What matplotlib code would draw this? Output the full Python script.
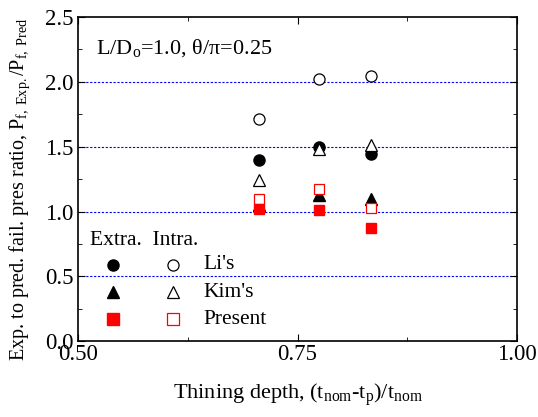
import numpy as np
import matplotlib.pyplot as plt
from matplotlib.ticker import MultipleLocator

plt.rcParams['font.family'] = 'Liberation Serif'
plt.rcParams['mathtext.fontset'] = 'custom'
plt.rcParams['mathtext.rm'] = 'Liberation Serif'
plt.rcParams['mathtext.it'] = 'Liberation Serif:italic'

# thinning depth positions
depth = [0.706, 0.775, 0.834]

# extrados (filled) and intrados (open) ratios
li_extra = [1.40, 1.50, 1.443]
li_intra = [1.71, 2.02, 2.045]
kim_extra = [1.05, 1.13, 1.10]
kim_intra = [1.245, 1.485, 1.51]
present_extra = [1.016, 1.008, 0.874]
present_intra = [1.10, 1.175, 1.03]

fig = plt.figure(figsize=(5.38, 4.17), dpi=100)
ax = fig.add_axes([0.145, 0.182, 0.816, 0.777])

for yv in [0.5, 1.0, 1.5, 2.0]:
    ax.axhline(yv, color='blue', ls=(0, (2, 1.5)), lw=0.8, zorder=1)

ms = 8
ax.plot(depth, li_extra, 'o', color='black', ms=ms, zorder=3)
ax.plot(depth, li_intra, 'o', mfc='white', mec='black', mew=0.9, ms=ms, zorder=3)
ax.plot(depth, kim_extra, '^', color='black', ms=ms, zorder=3)
ax.plot(depth, kim_intra, '^', mfc='white', mec='black', mew=0.9, ms=ms, zorder=3)
ax.plot(depth, present_extra, 's', color='red', ms=ms - 0.5, zorder=4)
ax.plot(depth, present_intra, 's', mfc='white', mec='red', mew=0.9, ms=ms - 0.5, zorder=3)

# hand-made legend
ax.text(0.027, 0.312, 'Extra.  Intra.', transform=ax.transAxes, fontsize=15.5, va='center')
rows = [(0.235, 'o', 'black', "Li's"), (0.151, '^', 'black', "Kim's"), (0.068, 's', 'red', 'Present')]
for yy, mk, c, lab in rows:
    ax.plot([0.080], [yy], mk, color=c, ms=ms, transform=ax.transAxes)
    ax.plot([0.216], [yy], mk, mfc='white', mec=c, mew=0.9, ms=ms, transform=ax.transAxes)
    ax.text(0.285, yy, lab, transform=ax.transAxes, fontsize=15.5, va='center')

ax.text(0.04, 0.905, r'L/D$_\mathrm{o}$=1.0, $\mathrm{\theta/\pi}$=0.25', transform=ax.transAxes,
        fontsize=16, va='center')

ax.set_xlim(0.5, 1.0)
ax.set_ylim(0.0, 2.5)
ax.xaxis.set_major_locator(MultipleLocator(0.25))
ax.xaxis.set_minor_locator(MultipleLocator(0.125))
ax.yaxis.set_major_locator(MultipleLocator(0.5))
ax.yaxis.set_minor_locator(MultipleLocator(0.25))
ax.xaxis.set_major_formatter(plt.FormatStrFormatter('%.2f'))
ax.yaxis.set_major_formatter(plt.FormatStrFormatter('%.1f'))
ax.tick_params(which='both', direction='in', top=True, right=True, labelsize=16.5)
ax.tick_params(axis='x', pad=2)
ax.tick_params(which='major', length=5)
ax.tick_params(which='minor', length=3)
for s in ax.spines.values():
    s.set_linewidth(1.2)

ax.set_xlabel(r'Thining depth, (t$_\mathrm{nom}$-t$_\mathrm{p}$)/t$_\mathrm{nom}$', fontsize=16, labelpad=12)
ax.set_ylabel(r'Exp. to pred. fail. pres ratio, P$_\mathrm{f,\ Exp.}$/P$_\mathrm{f,\ Pred}$', fontsize=14.5)
ax.yaxis.set_label_coords(-0.105, 0.47)

fig.savefig('out.png', dpi=100)
